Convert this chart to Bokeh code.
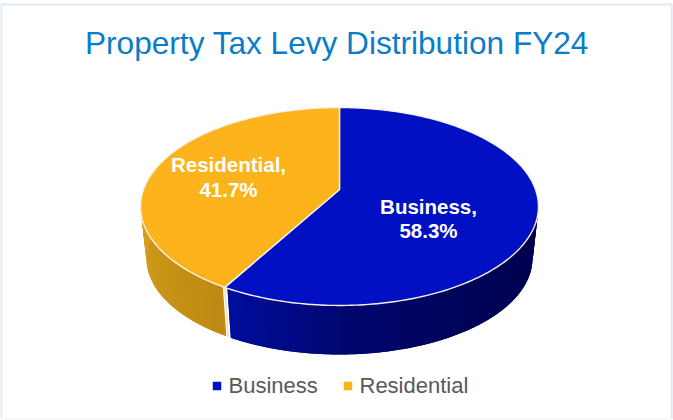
import numpy as np
from bokeh.core.properties import value
from bokeh.embed import file_html
from bokeh.models import Range1d
from bokeh.plotting import figure
from bokeh.resources import INLINE

title = "Property Tax Levy Distribution FY24"
categories = ["Business", "Residential"]
shares = [58.3, 41.7]
share_labels = ["58.3%", "41.7%"]

TOP_COLORS = ["#0010C2", "#FDB31B"]
FONT = value("Liberation Sans")

# perspective pie projection (page pixels)
CX, APEX_Y, RADIUS, TILT, FORESHORTEN = 339.0, 189.0, 196.0, 0.1717, 96.05
BASE_SCALE, BASE_APEX_Y = 0.97, 241.5


def project(theta_deg, scale=1.0, apex=APEX_Y):
    t = np.radians(theta_deg)
    u, v = np.sin(t), np.cos(t)
    d = 1 + TILT * v
    return CX + RADIUS * scale * u / d, apex - FORESHORTEN * scale * v / d


def mix(c0, c1, f):
    a = np.array([int(c0[i:i + 2], 16) for i in (1, 3, 5)])
    b = np.array([int(c1[i:i + 2], 16) for i in (1, 3, 5)])
    r = (a + (b - a) * f).round().astype(int)
    return "#%02x%02x%02x" % tuple(r)


def side_color(stops, f):
    pos = np.linspace(0, 1, len(stops))
    i = min(int(np.searchsorted(pos, f, side="right")) - 1, len(stops) - 2)
    return mix(stops[i], stops[i + 1], (f - pos[i]) / (pos[i + 1] - pos[i]))


p = figure(width=673, height=420, output_backend="svg", toolbar_location=None,
           x_axis_type=None, y_axis_type=None, min_border=0, outline_line_color=None,
           x_range=Range1d(0, 673), y_range=Range1d(420, 0),
           background_fill_color="white", border_fill_color="white")
p.grid.visible = False

# frame of the slide
p.line([0.8, 0.8, 671.2, 671.2], [418.3, 4, 4, 418.3], line_color="#DDE9F5", line_width=2)
p.line([0.8, 671.2], [418.3, 418.3], line_color="#EEEEEE", line_width=1)

split = 360 * shares[0] / sum(shares)

# side walls, as overlapping strips shaded along the rim
BLUE_STOPS = ["#000050", "#000050", "#000458", "#00066e", "#000D9C"]
GOLD_STOPS = ["#BF8A12", "#CC9618", "#DBA321"]
walls = [(np.linspace(85, split - 0.8, 60), BLUE_STOPS),
         (np.linspace(split + 0.6, 275, 30), GOLD_STOPS)]
for thetas, stops in walls:
    for k in range(len(thetas) - 1):
        t0 = thetas[k]
        t1 = thetas[min(k + 2, len(thetas) - 1)]
        arc = np.linspace(t0, t1, 6)
        xt, yt = project(arc)
        xb, yb = project(arc[::-1], BASE_SCALE, BASE_APEX_Y)
        c = side_color(stops, k / (len(thetas) - 2))
        p.patch(np.r_[xt, xb], np.r_[yt, yb], fill_color=c, line_color=None)

# exposed cut face between the two walls
fx0, fy0 = project(split)
fx1, fy1 = project(split, BASE_SCALE, BASE_APEX_Y)
p.line([fx0, fx1], [fy0, fy1], line_color="#EFE6CC", line_width=2)

# top surface
start = 0.0
for share, color in zip(shares, TOP_COLORS):
    span = 360 * share / sum(shares)
    th = np.linspace(start, start + span, 200)
    xs, ys = project(th)
    p.patch(np.r_[CX, xs], np.r_[APEX_Y, ys], fill_color=color,
            line_color="#F4F1E8", line_width=1.4, line_join="round")
    start += span

# title
p.text([336.5], [42], text=[title], text_font=FONT, text_font_size="31.6px",
       text_color="#0B7CC8", text_align="center", text_baseline="middle")

# data labels
for (lx, ly0, ly1), cat, lab in zip([(428, 206, 230), (228, 163.5, 188.5)], categories, share_labels):
    p.text([lx], [ly0], text=[cat + ","], text_font=FONT, text_font_size="20.5px",
           text_font_style="bold", text_color="white", text_align="center",
           text_baseline="middle")
    p.text([lx], [ly1], text=[lab], text_font=FONT, text_font_size="20.5px",
           text_font_style="bold", text_color="white", text_align="center",
           text_baseline="middle")

# legend
for sx, tx, cat, color in zip([216.5, 347.5], [228, 359], categories, TOP_COLORS):
    p.scatter([sx], [385.5], marker="square", size=8, fill_color=color, line_color=color,
              line_width=0.5)
    p.text([tx], [385], text=[cat], text_font=FONT, text_font_size="22px",
           text_color="#595959", text_align="left", text_baseline="middle")

open("out.html", "w").write(file_html(p, INLINE))
